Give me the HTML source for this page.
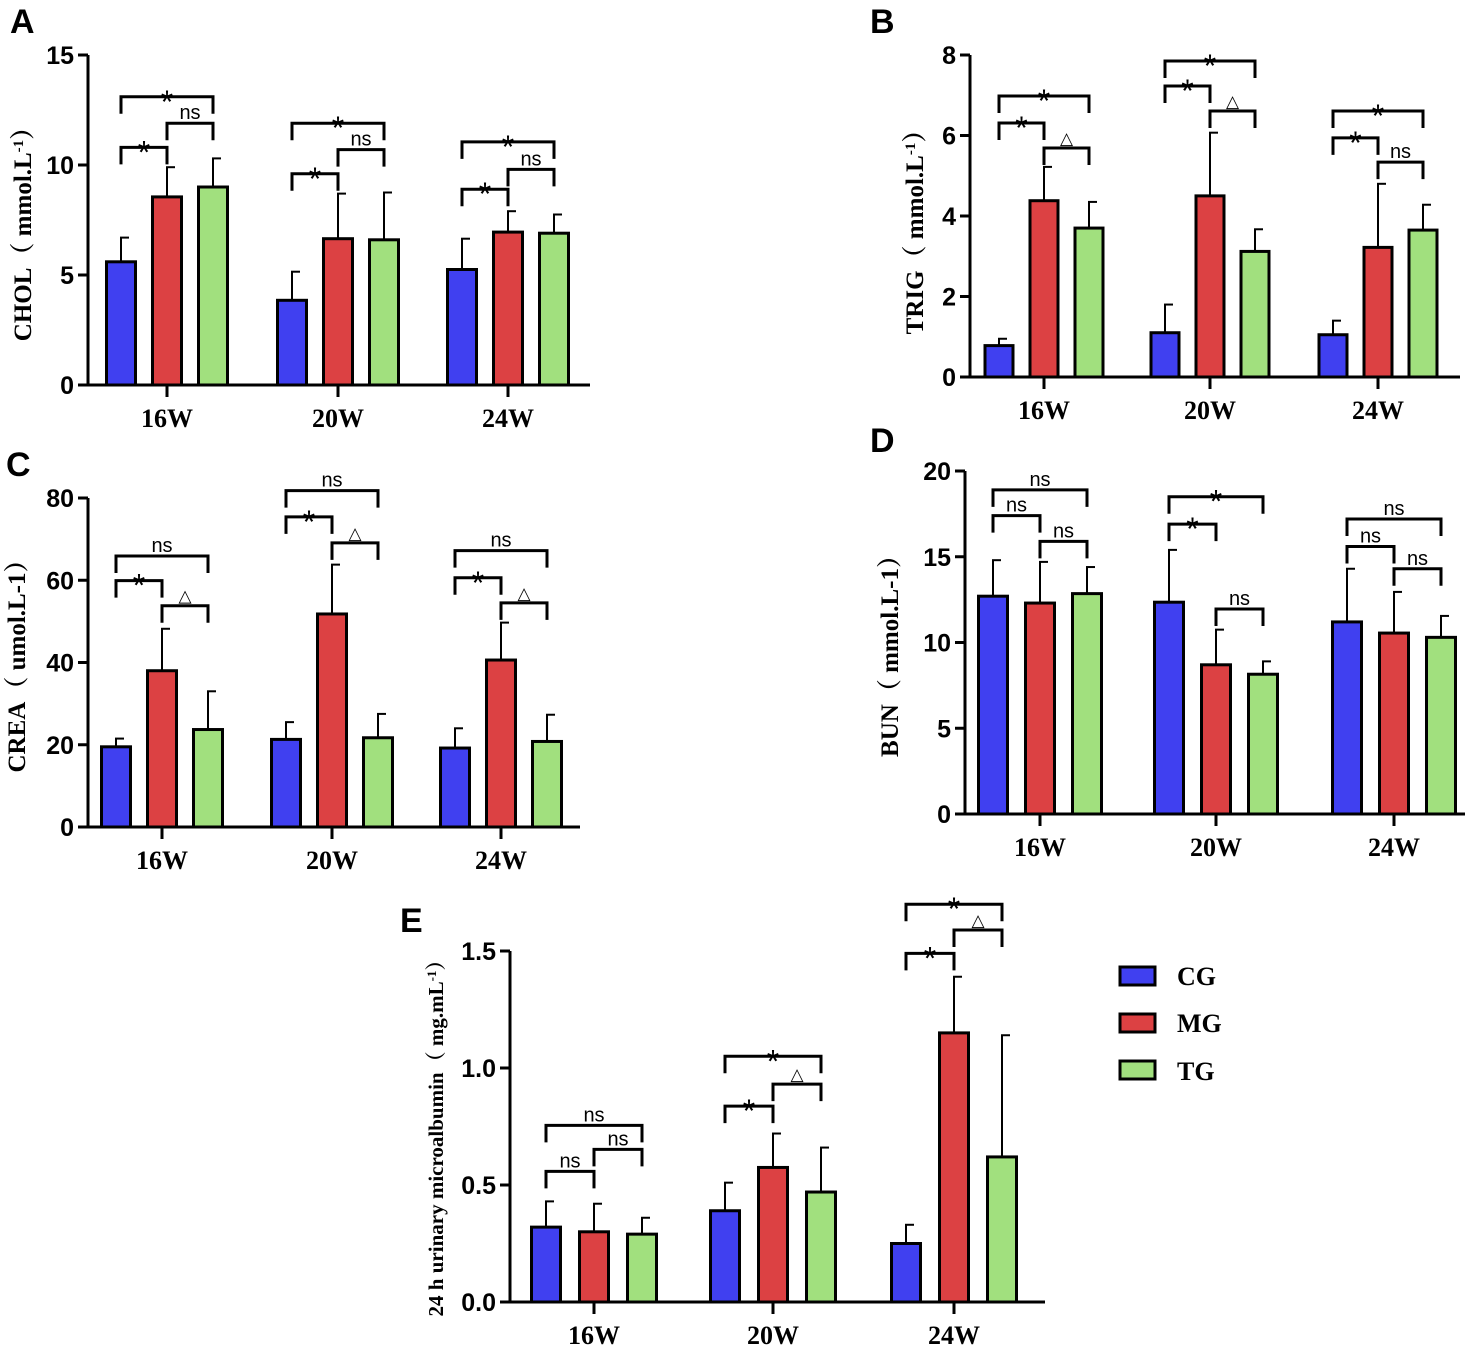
<!DOCTYPE html>
<html><head><meta charset="utf-8"><style>
html,body{margin:0;padding:0;background:#fff;}
svg{display:block;}
.tk{font-family:"Liberation Sans",Arial,sans-serif;font-weight:bold;font-size:25px;}
.xl{font-family:"Liberation Serif",serif;font-weight:bold;font-size:26px;}
.yt{font-family:"Liberation Serif","Noto Serif CJK SC",serif;font-weight:bold;font-size:25px;}
.pl{font-family:"Liberation Sans",Arial,sans-serif;font-weight:bold;font-size:34px;}
.an{font-family:"Liberation Sans",Arial,sans-serif;}
.lg{font-family:"Liberation Serif",serif;font-weight:bold;font-size:26px;}
</style></head><body>
<svg id="fig" width="1480" height="1352" viewBox="0 0 1480 1352" xmlns="http://www.w3.org/2000/svg">
<text class="pl" x="10" y="33">A</text>
<text class="pl" x="870" y="33">B</text>
<text class="pl" x="6" y="476">C</text>
<text class="pl" x="870" y="452">D</text>
<text class="pl" x="400" y="932">E</text>
<g>
<rect x="1120" y="967" width="35" height="18" fill="#4040f0" stroke="#000" stroke-width="3"/>
<text class="lg" x="1177" y="985">CG</text>
<rect x="1120" y="1014" width="35" height="18" fill="#dc4143" stroke="#000" stroke-width="3"/>
<text class="lg" x="1177" y="1032">MG</text>
<rect x="1120" y="1061" width="35" height="18" fill="#a1e07e" stroke="#000" stroke-width="3"/>
<text class="lg" x="1177" y="1080">TG</text>
</g>
</svg>
<script>
const categories = ["16W","20W","24W"];
const groups = ["CG","MG","TG"];
// Panel A CHOL
const cholCG = [5.6,3.85,5.25], cholCGerr = [6.7,5.15,6.65];
const cholMG = [8.55,6.65,6.95], cholMGerr = [9.9,8.7,7.9];
const cholTG = [9.0,6.6,6.9], cholTGerr = [10.3,8.75,7.75];
const cholTicks = [0,5,10,15];
const cholSig = [["*","ns","*"],["*","ns","*"],["*","ns","*"]];
const cholSigY = [[10.8,11.9,13.1],[9.6,10.7,11.9],[8.9,9.8,11.05]];
// Panel B TRIG
const trigCG = [0.78,1.1,1.05], trigCGerr = [0.95,1.8,1.4];
const trigMG = [4.38,4.5,3.22], trigMGerr = [5.22,6.07,4.8];
const trigTG = [3.7,3.12,3.65], trigTGerr = [4.35,3.67,4.28];
const trigTicks = [0,2,4,6,8];
const trigSig = [["*","△","*"],["*","△","*"],["*","ns","*"]];
const trigSigY = [[6.31,5.69,6.98],[7.23,6.61,7.85],[5.94,5.34,6.61]];
// Panel C CREA
const creaCG = [19.5,21.3,19.2], creaCGerr = [21.5,25.5,24];
const creaMG = [38,51.8,40.6], creaMGerr = [48.2,63.8,49.7];
const creaTG = [23.7,21.7,20.8], creaTGerr = [33,27.5,27.3];
const creaTicks = [0,20,40,60,80];
const creaSig = [["*","△","ns"],["*","△","ns"],["*","△","ns"]];
const creaSigY = [[59.9,53.8,65.9],[75.4,69.1,81.8],[60.6,54.5,67.2]];
// Panel D BUN
const bunCG = [12.7,12.35,11.2], bunCGerr = [14.8,15.4,14.3];
const bunMG = [12.3,8.7,10.55], bunMGerr = [14.7,10.75,12.95];
const bunTG = [12.85,8.15,10.3], bunTGerr = [14.4,8.9,11.55];
const bunTicks = [0,5,10,15,20];
const bunSig = [["ns","ns","ns"],["*","ns","*"],["ns","ns","ns"]];
const bunSigY = [[17.4,15.9,18.9],[16.9,11.95,18.5],[15.6,14.3,17.2]];
// Panel E microalbumin
const malbCG = [0.32,0.39,0.25], malbCGerr = [0.43,0.51,0.33];
const malbMG = [0.30,0.575,1.15], malbMGerr = [0.42,0.72,1.39];
const malbTG = [0.29,0.47,0.62], malbTGerr = [0.36,0.66,1.14];
const malbTicks = ["0.0","0.5","1.0","1.5"];
const malbSig = [["ns","ns","ns"],["*","△","*"],["*","△","*"]];
const malbSigY = [[0.558,0.652,0.755],[0.837,0.931,1.05],[1.49,1.59,1.70]];

const colors = ["#4040f0","#dc4143","#a1e07e"];
const NS = "http://www.w3.org/2000/svg";
const svg = document.getElementById("fig");
function mk(tag, attrs, parent){const e=document.createElementNS(NS,tag);for(const k in attrs)e.setAttribute(k,attrs[k]);(parent||svg).appendChild(e);return e;}

function panel(p){
  const g = mk("g",{});
  
  
  const yS = v => p.y0 - (v - 0) * (p.y0 - p.yTop) / p.max;
  const xS = (ci, gi) => p.centers[ci] + (gi - 1) * p.gap;
  const series = [[p.cg,p.cgE],[p.mg,p.mgE],[p.tg,p.tgE]];
  categories.forEach((c, ci) => {
    series.forEach((s, gi) => {
      const cx = xS(ci, gi), v = s[0][ci], e = s[1][ci];
      const el = mk("line",{x1:cx,x2:cx,y1:yS(v),y2:yS(e),stroke:"#000","stroke-width":2},g);
      
      
      const cap = mk("line",{x1:cx-1,x2:cx+8,y1:yS(e),y2:yS(e),stroke:"#000","stroke-width":2},g);
      
      
      const r = mk("rect",{x:cx-p.bw/2,y:yS(v),width:p.bw,height:yS(0)-yS(v),fill:colors[gi],stroke:"#000","stroke-width":3},g);
      
      
    });
    const pairs = [[0,1],[1,2],[0,2]];
    pairs.forEach((pr, k) => {
      const yy = yS(p.sigY[ci][k]);
      const x1 = xS(ci, pr[0]), x2 = xS(ci, pr[1]);
      const b = mk("polyline",{points:`${x1},${yy+17} ${x1},${yy} ${x2},${yy} ${x2},${yy+17}`,fill:"none",stroke:"#000","stroke-width":3},g);
      
      
      const lab = p.sig[ci][k];
      const fs = lab === "*" ? 32 : (lab === "ns" ? 20 : 17);
      const dy = lab === "*" ? 16 : -4;
      const t = mk("text",{x:(x1+x2)/2,y:yy+dy,"text-anchor":"middle","font-size":fs,class:"an"},g);
      t.textContent = lab;
      
      
    });
    const tk = mk("line",{x1:p.centers[ci],x2:p.centers[ci],y1:p.y0,y2:p.y0+12,stroke:"#000","stroke-width":3},g);
    
    
    const xl = mk("text",{x:p.centers[ci],y:p.y0+42,"text-anchor":"middle",class:"xl"},g);
    xl.textContent = c;
    
    
  });
  const ya = mk("line",{x1:p.ax,x2:p.ax,y1:p.yTop,y2:p.y0+1.5,stroke:"#000","stroke-width":3},g);
  
  
  const xa = mk("line",{x1:p.ax-1.5,x2:p.axEnd,y1:p.y0,y2:p.y0,stroke:"#000","stroke-width":3},g);
  
  
  p.ticks.forEach(tv => {
    const y = yS(parseFloat(tv));
    const l = mk("line",{x1:p.ax-10,x2:p.ax,y1:y,y2:y,stroke:"#000","stroke-width":3},g);
    
    
    const t = mk("text",{x:p.ax-14,y:y+9,"text-anchor":"end",class:"tk"},g);
    t.textContent = tv;
    
    
  });
  const yt = mk("text",{x:0,y:0,transform:`translate(${p.tx},${p.ty}) rotate(-90)`,"text-anchor":"middle",class:"yt"},g);
  if (p.tfs) yt.setAttribute("style","font-size:"+p.tfs+"px");
  yt.innerHTML = p.title;
  
  
}

panel({name:"panel-a-chol",ax:88,axEnd:590,y0:385,yTop:55,max:15,centers:[167,338,508],gap:46,bw:29,
  cg:cholCG,cgE:cholCGerr,mg:cholMG,mgE:cholMGerr,tg:cholTG,tgE:cholTGerr,ticks:cholTicks,sig:cholSig,sigY:cholSigY,
  tx:31,ty:228,title:'CHOL（ mmol.L<tspan baseline-shift="super" font-size="15">-1</tspan>）'});
panel({name:"panel-b-trig",ax:970,axEnd:1460,y0:377,yTop:55,max:8,centers:[1044,1210,1378],gap:45,bw:28,
  cg:trigCG,cgE:trigCGerr,mg:trigMG,mgE:trigMGerr,tg:trigTG,tgE:trigTGerr,ticks:trigTicks,sig:trigSig,sigY:trigSigY,
  tx:923,ty:226,title:'TRIG（ mmol.L<tspan baseline-shift="super" font-size="15">-1</tspan>）'});
panel({name:"panel-c-crea",ax:88,axEnd:580,y0:827,yTop:498,max:80,centers:[162,332,501],gap:46,bw:29,
  cg:creaCG,cgE:creaCGerr,mg:creaMG,mgE:creaMGerr,tg:creaTG,tgE:creaTGerr,ticks:creaTicks,sig:creaSig,sigY:creaSigY,
  tx:25,ty:660,title:'CREA（ umol.L-1）'});
panel({name:"panel-d-bun",ax:965,axEnd:1465,y0:814,yTop:471,max:20,centers:[1040,1216,1394],gap:47,bw:29,
  cg:bunCG,cgE:bunCGerr,mg:bunMG,mgE:bunMGerr,tg:bunTG,tgE:bunTGerr,ticks:bunTicks,sig:bunSig,sigY:bunSigY,
  tx:898,ty:650,title:'BUN（ mmol.L-1）'});
panel({name:"panel-e-microalbumin",ax:510,axEnd:1045,y0:1302,yTop:951,max:1.5,centers:[594,773,954],gap:48,bw:29,
  cg:malbCG,cgE:malbCGerr,mg:malbMG,mgE:malbMGerr,tg:malbTG,tgE:malbTGerr,ticks:malbTicks,sig:malbSig,sigY:malbSigY,
  tx:443,ty:1133,tfs:21,title:'24 h urinary microalbumin（ mg.mL<tspan baseline-shift="super" font-size="13">-1</tspan>）'});
</script>
</body></html>
